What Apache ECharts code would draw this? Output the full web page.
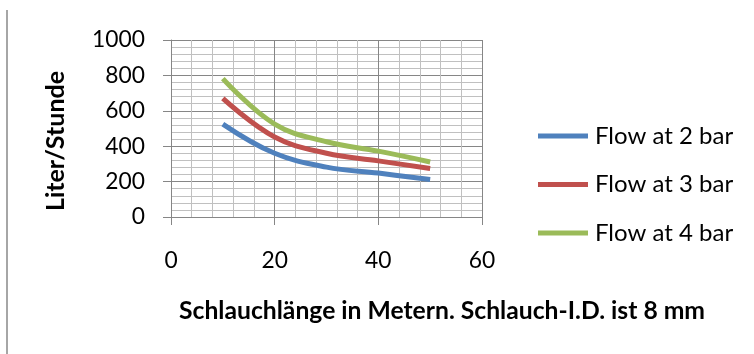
<!DOCTYPE html>
<html>
<head>
<meta charset="utf-8">
<script src="https://cdn.jsdelivr.net/npm/echarts@6/dist/echarts.min.js"></script>
<style>
html,body{margin:0;padding:0;background:#fff;}
#chart{width:754px;height:354px;}
</style>
</head>
<body>
<div id="chart"></div>
<script>
var lengths = [10, 20, 30, 40, 50];
var flow2 = [525, 360, 282, 248, 212];
var flow3 = [670, 452, 360, 317, 274];
var flow4 = [782, 525, 425, 372, 311];
var seriesNames = ['Flow at 2 bar', 'Flow at 3 bar', 'Flow at 4 bar'];
var colors = ['#4F81BD', '#C0504D', '#9BBB59'];
var xTitle = 'Schlauchlänge in Metern. Schlauch-I.D. ist 8 mm';
var yTitle = 'Liter/Stunde';

var FONT = 'Lato';
var ctx = document.createElement('canvas').getContext('2d');
function fit(text, weight, target){
  ctx.font = weight + ' 100px ' + FONT;
  var w = ctx.measureText(text).width;
  return Math.round(100 * target / w * 10) / 10;
}
var tickSize = fit('1000', 'normal', 53);
var legendSize = fit(seriesNames[0], 'normal', 138);
var xTitleSize = fit(xTitle, 'bold', 527);
var yTitleSize = fit(yTitle, 'bold', 140);

function pairs(vals){ return lengths.map(function(x,i){ return [x, vals[i]]; }); }
var chart = echarts.init(document.getElementById('chart'));
var allVals = [flow2, flow3, flow4];
var LH = 28;
chart.setOption({
  animation: false,
  textStyle: {fontFamily: FONT},
  grid: {left: 171, top: 40, width: 311, height: 177},
  legend: {
    orient: 'vertical', left: 538, top: 136 - LH / 2, padding: 0,
    itemWidth: 50, itemHeight: 5, itemGap: 48.5 - LH, icon: 'rect',
    textStyle: {fontFamily: FONT, fontSize: legendSize, color: '#000', lineHeight: LH, padding: [0,0,0,2]},
    data: seriesNames
  },
  graphic: [
    {type: 'line', shape: {x1: 7, y1: 10, x2: 7, y2: 354}, style: {stroke: '#a6a6a6', lineWidth: 2}},
    {type: 'text', x: 179, y: 311,
     style: {text: xTitle, font: 'bold ' + xTitleSize + 'px ' + FONT, fill: '#000', align: 'left', verticalAlign: 'middle'}},
    {type: 'text', x: 56, y: 141, rotation: Math.PI / 2,
     style: {text: yTitle, font: 'bold ' + yTitleSize + 'px ' + FONT, fill: '#000', align: 'center', verticalAlign: 'middle'}}
  ],
  xAxis: {
    type: 'value', min: 0, max: 60, interval: 20,
    axisLine: {show: true, lineStyle: {color: '#868686', width: 1}},
    axisTick: {show: true, length: 8, lineStyle: {color: '#868686'}},
    axisLabel: {fontFamily: FONT, fontSize: tickSize, color: '#000', margin: 44, verticalAlign: 'middle'},
    splitLine: {show: true, lineStyle: {color: '#868686', width: 1}},
    minorTick: {show: false, splitNumber: 5},
    minorSplitLine: {show: true, lineStyle: {color: '#c0c0c0', width: 1}}
  },
  yAxis: {
    type: 'value', min: 0, max: 1000, interval: 200,
    axisLine: {show: true, lineStyle: {color: '#868686', width: 1}},
    axisTick: {show: true, length: 8, lineStyle: {color: '#868686'}},
    axisLabel: {fontFamily: FONT, fontSize: tickSize, color: '#000', margin: 26, formatter: function(v){ return String(v); }},
    splitLine: {show: true, lineStyle: {color: '#868686', width: 1}},
    minorTick: {show: false, splitNumber: 5},
    minorSplitLine: {show: true, lineStyle: {color: '#c0c0c0', width: 1}}
  },
  series: seriesNames.map(function(n, i){
    return {
      name: n, type: 'line', data: pairs(allVals[i]), smooth: 0.4,
      showSymbol: false, symbol: 'none',
      lineStyle: {color: colors[i], width: 5},
      itemStyle: {color: colors[i]}
    };
  })
});
</script>
</body>
</html>
